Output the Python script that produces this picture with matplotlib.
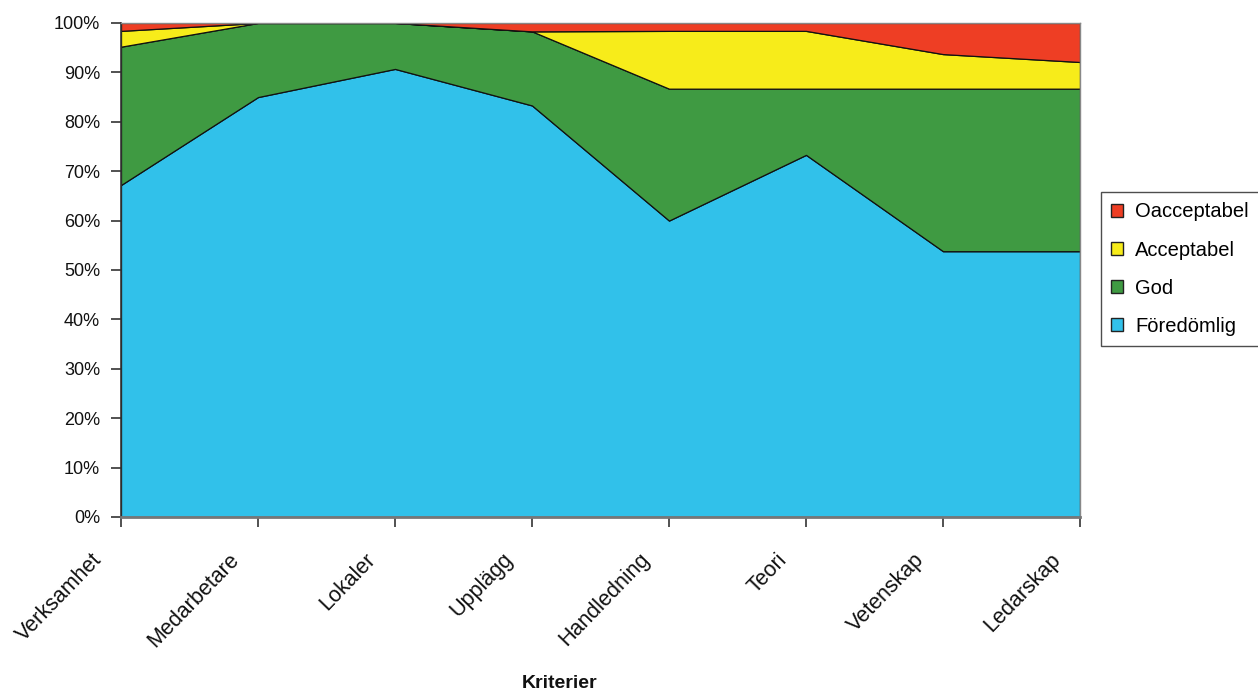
import matplotlib.pyplot as plt
import matplotlib.transforms as mtransforms
from matplotlib.patches import Patch
from matplotlib.ticker import FuncFormatter

plt.rcParams['font.family'] = ['Liberation Sans', 'DejaVu Sans']

# kriterier och andelar (%)
kriterier = ["Verksamhet", "Medarbetare", "Lokaler", "Upplägg", "Handledning", "Teori", "Vetenskap", "Ledarskap"]
foredomlig = [67.2, 85.0, 90.7, 83.3, 60.0, 73.3, 53.8, 53.8]
god = [28.0, 15.0, 9.3, 15.0, 26.7, 13.4, 32.9, 32.9]
acceptabel = [3.2, 0.0, 0.0, 0.0, 11.7, 11.7, 7.0, 5.4]
oacceptabel = [1.6, 0.0, 0.0, 1.7, 1.6, 1.6, 6.3, 7.9]

names = ["Föredömlig", "God", "Acceptabel", "Oacceptabel"]
colors = ["#31c1ea", "#3f9a42", "#f7ec1a", "#ee3e24"]

fig = plt.figure(figsize=(12.58, 6.92), dpi=100)
ax = fig.add_axes([0.0962, 0.2529, 0.7623, 0.7139])

x = range(len(kriterier))
ax.stackplot(x, foredomlig, god, acceptabel, oacceptabel, colors=colors,
             edgecolor="#111111", linewidth=0.9)

ax.set_xlim(0, len(kriterier) - 1)
ax.set_ylim(0, 100)
ax.set_yticks(range(0, 101, 10))
ax.yaxis.set_major_formatter(FuncFormatter(lambda v, p: "{:.0f}%".format(v)))
ax.set_xticks(list(x))
ax.set_xticklabels(kriterier, rotation=46, ha="right", va="top", rotation_mode="anchor")

ax.tick_params(axis="both", direction="out", length=7, width=1.2, color="#333333",
               labelcolor="#111111")
ax.tick_params(axis="y", pad=8, labelsize=13)
ax.tick_params(axis="x", pad=6, labelsize=15.5)

shift = mtransforms.ScaledTranslation(-0.30, -0.14, fig.dpi_scale_trans)
for lab in ax.get_xticklabels():
    lab.set_transform(lab.get_transform() + shift)

for side in ["top", "right"]:
    ax.spines[side].set_color("#888888")
    ax.spines[side].set_linewidth(1.0)
ax.spines["left"].set_color("#333333")
ax.spines["left"].set_linewidth(1.2)
ax.spines["bottom"].set_color("#777777")
ax.spines["bottom"].set_linewidth(2.0)

fig.text(0.445, 0.013, "Kriterier", ha="center", va="center", fontsize=14,
         fontweight="bold", color="#111111")

handles = [Patch(facecolor=c, edgecolor="#222222", linewidth=1.0) for c in colors]
leg = fig.legend(handles[::-1], names[::-1], loc="upper left",
                 bbox_to_anchor=(0.875, 0.722), frameon=True, fancybox=False,
                 edgecolor="#222222", fontsize=14.5, handlelength=0.6, handleheight=0.6,
                 handletextpad=0.6, labelspacing=0.95, borderpad=0.5, borderaxespad=0)
leg.get_frame().set_linewidth(1.0)

fig.savefig("out.png", dpi=100)
